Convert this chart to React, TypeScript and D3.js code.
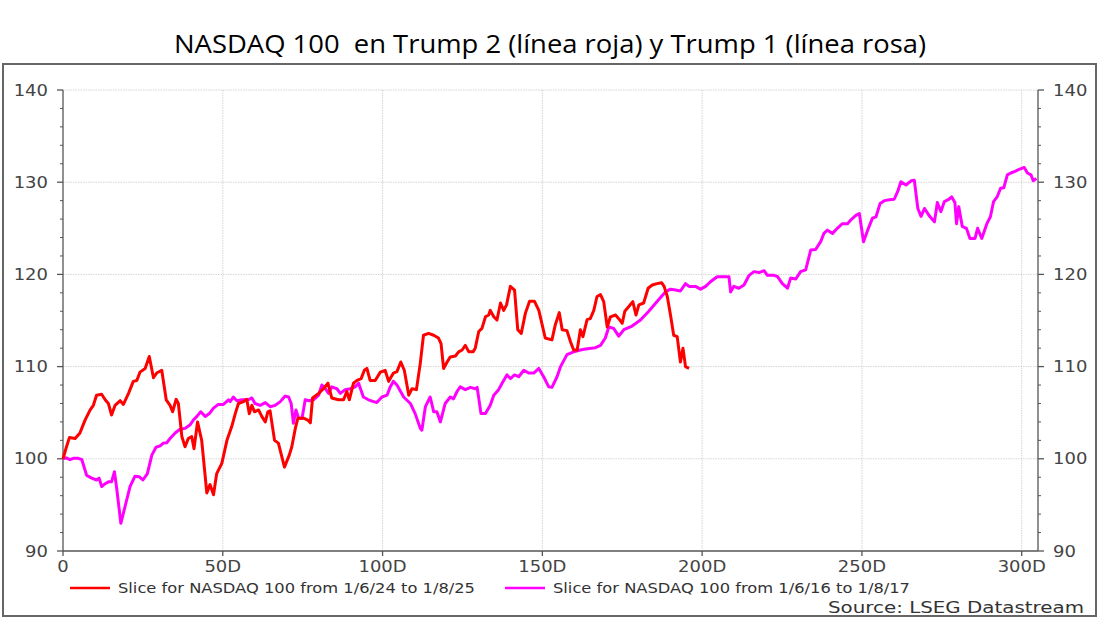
import React from "react";
import * as d3 from "d3";

const title = "NASDAQ 100  en Trump 2 (línea roja) y Trump 1 (línea rosa)";
const legendTrump2 = "Slice for NASDAQ 100 from 1/6/24 to 1/8/25";
const legendTrump1 = "Slice for NASDAQ 100 from 1/6/16 to 1/8/17";
const sourceText = "Source: LSEG Datastream";

const yMajorTicks = [90, 100, 110, 120, 130, 140];
const yMinorTicks = [92, 94, 96, 98, 102, 104, 106, 108, 112, 114, 116, 118, 122, 124, 126, 128, 132, 134, 136, 138];
const xTicks = [0, 50, 100, 150, 200, 250, 300];
const xTickLabels = ["0", "50D", "100D", "150D", "200D", "250D", "300D"];

// Trump 2: [day, value]
const trump2: [number, number][] = [
  [0,100],[1,101.2],[2,102.3],[3.8,102.2],[5.3,102.8],[6.9,104.2],[8.5,105.3],[9.5,105.8],[10.5,106.9],[12.1,107.0],[13.2,106.4],[14.2,106.0],[15.2,104.75],[16.3,105.8],[17.9,106.3],[18.9,105.9],[20.5,107.1],[22,108.4],[23.1,108.5],[24.1,109.4],[25.7,109.8],[27,111.1],[28.3,108.8],[29.3,109.3],[30.9,109.6],[32.3,106.4],[33.5,105.8],[34.3,105.1],[35.4,106.45],[36.1,106.0],[37.2,102.4],[38.2,101.3],[39.2,102.2],[40.3,102.4],[41,101.1],[42.1,104.0],[43.4,102.0],[45,96.3],[46,97.2],[47.1,96.1],[48.1,98.4],[49.7,99.5],[51.3,102.0],[52.8,103.5],[53.9,104.9],[54.9,106.0],[56.5,106.2],[57.5,106.45],[58.3,104.9],[59.1,105.8],[59.9,105.1],[61.2,105.3],[62.2,104.6],[63.3,104.0],[64.1,105.1],[64.8,105.2],[66.2,102.0],[67.4,101.7],[69.3,99.1],[70.8,100.4],[71.6,101.3],[72.7,103.3],[73.5,104.4],[75.3,104.4],[76.6,104.2],[77.4,103.9],[78.1,106.6],[80,107.1],[81.5,107.6],[82.9,108.2],[84.1,106.6],[86.2,106.4],[87.8,106.4],[88.8,107.3],[89.6,106.4],[90.9,108.2],[92,108.5],[93.3,108.7],[94.3,109.6],[95.1,109.8],[96.1,108.5],[97.7,108.5],[99.3,109.4],[100.8,109.6],[101.9,108.4],[103.4,109.3],[104.5,109.45],[105.7,110.5],[106.8,109.6],[108.2,106.9],[109.2,107.6],[110.6,107.5],[111.8,110.35],[112.8,113.4],[114.4,113.6],[116,113.4],[117.5,113.1],[118.3,112.5],[119.1,109.8],[120.2,110.5],[121.2,111.05],[122.8,111.15],[123.8,111.6],[124.9,111.8],[125.9,112.3],[127,111.6],[128.3,111.6],[129,112.0],[130.1,113.8],[131.1,114.15],[132.2,115.4],[133.2,115.6],[133.7,116.1],[134.8,115.4],[135.8,115.05],[136.9,116.9],[137.9,116.1],[138.8,116.7],[140,118.7],[141.3,118.3],[142.3,114.0],[143.4,113.6],[144.7,115.8],[146,117.1],[147.5,117.1],[148.9,116.1],[150.9,113.1],[153,112.9],[154.1,114.6],[155.3,115.85],[156.2,114.0],[157.7,113.9],[158.8,112.7],[159.8,111.8],[160.9,111.8],[161.9,114.0],[162.7,113.25],[164,115.1],[165,115.2],[166.1,116.1],[167.1,117.6],[168.2,117.8],[169.2,117.05],[170.3,114.3],[171.3,115.4],[172.9,115.6],[173.9,115.2],[175,114.7],[175.8,116.0],[177,116.5],[178.3,117.05],[179.3,115.6],[180.2,116.7],[181.7,116.9],[183.1,118.5],[184.4,118.85],[185.9,119.0],[187.3,119.1],[188.1,118.7],[189.1,117.6],[190.1,115.6],[191.1,113.4],[192.2,113.25],[193.2,110.5],[194,112.0],[194.8,110.0],[195.9,109.8]
];

// Trump 1: [day, value]
const trump1: [number, number][] = [
  [0,100],[1,100.1],[2.2,99.9],[3.2,100.05],[4.8,100.05],[5.9,99.9],[7.4,98.2],[9,97.9],[10.5,97.7],[11.3,97.9],[12.1,97.0],[13.2,97.3],[14.2,97.5],[15.2,97.5],[16.1,98.6],[16.8,96.8],[18.1,93.0],[19.4,94.8],[21,97.0],[22.5,98.1],[23.9,98.05],[25,97.7],[26.4,98.4],[27.8,100.4],[29.1,101.25],[30.4,101.4],[31.4,101.7],[32.5,101.75],[33.5,102.2],[35.1,102.8],[36.6,103.2],[38.2,103.3],[39.8,103.7],[40.8,104.2],[41.9,104.6],[43.1,105.1],[44.5,104.6],[45.8,104.9],[47.1,105.5],[48.6,105.9],[50.2,105.9],[51.8,106.4],[52.3,106.2],[53.3,106.7],[54.4,106.3],[56,106.4],[58,106.4],[59.1,106.6],[60.1,106.0],[61.7,105.8],[63.3,106.1],[64.8,105.65],[66.4,105.8],[68,106.2],[69.5,106.8],[70.6,106.7],[71.4,106.0],[72.1,103.85],[72.9,105.3],[73.7,104.4],[74.8,104.4],[75.8,106.4],[77,106.3],[78.4,106.4],[80,106.9],[81,108.0],[82.1,107.6],[83.1,107.1],[84.1,107.8],[85.7,107.6],[86.8,107.1],[88.3,107.5],[89.9,107.6],[91.4,107.8],[92.5,108.2],[94,106.7],[95.6,106.4],[97.2,106.2],[98.2,106.1],[99.8,106.7],[101.4,106.9],[102.4,107.8],[103.4,108.4],[104.5,108.0],[106.6,106.7],[108.7,106.0],[110.2,104.9],[111.8,103.3],[112.3,103.1],[113.4,105.65],[114.9,106.7],[116,105.1],[117,105.1],[118.1,104.0],[119.6,106.0],[121.2,106.7],[122.2,106.5],[123.3,107.3],[124.3,107.8],[125.9,107.5],[127.5,107.75],[129,107.6],[129.6,107.75],[130.8,104.9],[132.2,104.9],[133.7,105.8],[134.8,106.9],[136.3,107.5],[137.4,108.2],[138.9,109.1],[140,108.7],[141.3,109.1],[142.6,108.9],[144.2,109.6],[145.7,109.3],[147.3,109.3],[148.9,109.8],[150.4,108.9],[152,107.8],[153,107.75],[154.6,108.9],[155.7,110.0],[157.7,111.3],[159.8,111.6],[161.9,111.8],[163.5,111.9],[166.6,112.05],[168.2,112.3],[169.7,113.1],[170.8,114.3],[172.3,114.15],[173.9,113.3],[175.5,114.0],[178.1,114.4],[180.7,115.05],[183.3,116.0],[185.9,117.05],[188.5,118.1],[190.1,118.4],[191.7,118.3],[193.2,118.2],[194.8,119.0],[195.9,118.7],[197.9,118.7],[199.5,118.4],[201.1,118.7],[202.6,119.2],[204.7,119.75],[205.8,119.75],[208.4,119.75],[208.9,118.1],[209.9,118.7],[211.5,118.5],[213.1,118.85],[214.7,119.9],[216.2,120.3],[217.8,120.2],[219.4,120.4],[220.4,119.9],[222.5,119.9],[223.6,119.75],[225.1,119.0],[226.7,118.5],[227.7,119.6],[229.3,119.5],[230.8,120.3],[232.4,120.5],[234,122.65],[235.5,122.7],[237.1,123.55],[238.1,124.45],[239.2,124.8],[240.8,124.45],[242.3,125.0],[243.9,125.5],[245.5,125.5],[246.5,125.9],[248.1,126.4],[249.2,126.6],[250.5,123.55],[251.8,124.8],[253.3,126.1],[254.4,126.25],[255.7,127.7],[257,128.0],[258.6,128.1],[260.1,128.15],[261.2,129.0],[262.2,130.05],[263.8,129.7],[265.4,130.15],[266.4,130.2],[267.5,127.15],[268.5,126.3],[269.6,127.15],[271.2,126.3],[272.7,125.7],[273.6,127.8],[274.7,126.8],[275.8,127.9],[277,128.1],[278.1,128.4],[279.1,127.8],[279.6,125.5],[280.3,127.35],[281.4,125.2],[282.7,125.0],[283.8,123.9],[285.4,123.9],[286.2,125.0],[287.5,123.9],[289.1,125.5],[290.2,126.25],[291.2,127.9],[292.3,128.4],[293.4,129.35],[294.4,129.4],[295.5,130.8],[296.6,131.0],[298.1,131.2],[299.2,131.4],[300.8,131.6],[301.8,131.0],[302.9,130.8],[303.6,130.15],[304.6,130.4]
];

const W = 1100, H = 619;
const left = 63, right = 1038, top = 90, bottom = 551;

export default function App() {
  const x = d3.scaleLinear().domain([0, 305.1]).range([left, right]);
  const y = d3.scaleLinear().domain([90, 140]).range([bottom, top]);
  const line = d3.line<[number, number]>().x(d => x(d[0])).y(d => y(d[1]));
  const axisColor = "#555";
  const labelColor = "#444";
  const font = "'DejaVu Sans', Verdana, sans-serif";

  return (
    <svg width={W} height={H} style={{ position: "absolute", left: 0, top: 0, background: "#fff" }} fontFamily={font}>
      <rect x={0} y={0} width={W} height={H} fill="#fff" />
      <text x={174} y={53} textLength={752} lengthAdjust="spacingAndGlyphs" fontSize={26} fill="#000" style={{ whiteSpace: "pre" }} fontFamily="'Open Sans', 'Liberation Sans', sans-serif">{title}</text>
      <rect x={3} y={64} width={1093} height={552} fill="none" stroke="#666" strokeWidth={2} />

      {/* grid */}
      {yMajorTicks.filter(t => t > 90).map(t => (
        <line key={"gy" + t} x1={left} x2={right} y1={y(t)} y2={y(t)} stroke="#d4d4d4" strokeWidth={1} strokeDasharray="1.5,1" />
      ))}
      {xTicks.filter(t => t > 0).map(t => (
        <line key={"gx" + t} x1={x(t)} x2={x(t)} y1={top} y2={bottom} stroke="#d4d4d4" strokeWidth={1} strokeDasharray="1.5,1" />
      ))}

      {/* axes */}
      <line x1={left} x2={left} y1={top} y2={bottom} stroke={axisColor} strokeWidth={1.3} />
      <line x1={right} x2={right} y1={top} y2={bottom} stroke={axisColor} strokeWidth={1.3} />
      <line x1={left} x2={right} y1={bottom} y2={bottom} stroke={axisColor} strokeWidth={1.3} />
      {yMajorTicks.map(t => (
        <g key={"yt" + t}>
          <line x1={left - 6} x2={left} y1={y(t)} y2={y(t)} stroke={axisColor} strokeWidth={1.3} />
          <line x1={right} x2={right + 6} y1={y(t)} y2={y(t)} stroke={axisColor} strokeWidth={1.3} />
          <text transform={`translate(48,${y(t) + 5.5}) scale(1.2,1)`} textAnchor="end" fontSize={15} fill={labelColor}>{t}</text>
          <text transform={`translate(1053,${y(t) + 5.5}) scale(1.2,1)`} textAnchor="start" fontSize={15} fill={labelColor}>{t}</text>
        </g>
      ))}
      {yMinorTicks.map(t => (
        <g key={"ym" + t}>
          <line x1={left - 3} x2={left} y1={y(t)} y2={y(t)} stroke={axisColor} strokeWidth={1} />
          <line x1={right} x2={right + 3} y1={y(t)} y2={y(t)} stroke={axisColor} strokeWidth={1} />
        </g>
      ))}
      {xTicks.map((t, i) => (
        <g key={"xt" + t}>
          <line x1={x(t)} x2={x(t)} y1={bottom} y2={bottom + 5} stroke={axisColor} strokeWidth={1.3} />
          <text transform={`translate(${x(t)},572) scale(1.2,1)`} textAnchor="middle" fontSize={15} fill={labelColor}>{xTickLabels[i]}</text>
        </g>
      ))}

      {/* series */}
      <path d={line(trump1) || ""} fill="none" stroke="#ff00ff" strokeWidth={3} strokeLinejoin="round" />
      <path d={line(trump2) || ""} fill="none" stroke="#ff0000" strokeWidth={3} strokeLinejoin="round" />

      {/* legend */}
      <line x1={70} x2={110} y1={588} y2={588} stroke="#ff0000" strokeWidth={2.5} />
      <text x={118} y={593} textLength={357} lengthAdjust="spacingAndGlyphs" fontSize={13.5} fill="#333">{legendTrump2}</text>
      <line x1={505} x2={545} y1={588} y2={588} stroke="#ff00ff" strokeWidth={2.5} />
      <text x={553} y={593} textLength={357} lengthAdjust="spacingAndGlyphs" fontSize={13.5} fill="#333">{legendTrump1}</text>

      <text x={828} y={613} textLength={256} lengthAdjust="spacingAndGlyphs" fontSize={15.5} fill="#333">{sourceText}</text>
    </svg>
  );
}
